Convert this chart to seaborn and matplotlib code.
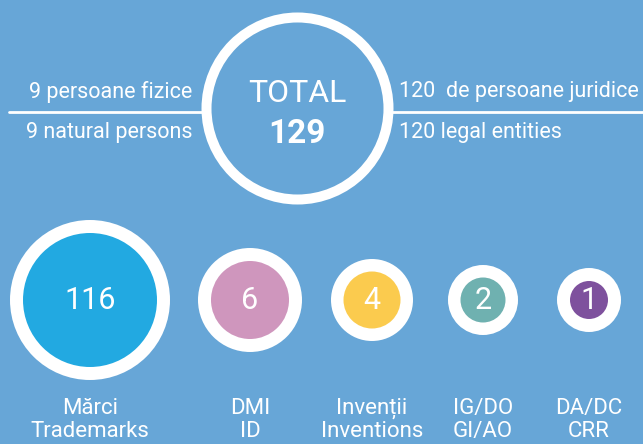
import matplotlib
matplotlib.use("Agg")
import matplotlib.pyplot as plt
import seaborn as sns
import pandas as pd

# data
categories = ["Mărci\nTrademarks", "DMI\nID", "Invenții\nInventions", "IG/DO\nGI/AO", "DA/DC\nCRR"]
counts = [116, 6, 4, 2, 1]
total = 129
natural_persons = 9
legal_entities = 120

# styling / layout (pixel coordinates)
bg = "#67a6d7"
fill_colors = ["#22a9e1", "#cf96bd", "#fbcb4e", "#6fb1b0", "#7e519d"]
x_pos = [90, 250, 372, 483, 589]
y_row = 300
outer_r = [80, 52, 41, 35, 32]
inner_r = [67, 39, 28.5, 22.5, 19]

W, H = 643, 444
PX = 72 / 100  # points per pixel at dpi 100


def area(r):
    return (2 * r * PX) ** 2


df = pd.DataFrame({"cat": categories, "count": counts, "x": x_pos, "y": y_row})

sns.set_theme(style="white")
plt.rcParams["font.family"] = ["Roboto", "DejaVu Sans"]

fig = plt.figure(figsize=(W / 100, H / 100), dpi=100, facecolor=bg)
ax = fig.add_axes([0, 0, 1, 1])
ax.set_facecolor(bg)

# white rings
sns.scatterplot(data=df, x="x", y="y", hue="cat", size="cat",
                sizes=dict(zip(categories, [area(r) for r in outer_r])),
                palette=dict(zip(categories, ["white"] * 5)),
                linewidth=0, legend=False, ax=ax, zorder=2)
# coloured fill
sns.scatterplot(data=df, x="x", y="y", hue="cat", size="cat",
                sizes=dict(zip(categories, [area(r) for r in inner_r])),
                palette=dict(zip(categories, fill_colors)),
                linewidth=0, legend=False, ax=ax, zorder=3)

for _, row in df.iterrows():
    ax.text(row["x"], row["y"], str(row["count"]), ha="center", va="center",
            color="white", fontsize=22, zorder=4)
    ax.text(row["x"], 420, row["cat"], ha="center", va="center",
            color="white", fontsize=16, linespacing=1.1, zorder=4)

# top total circle
cx, cy, r_top = 297, 108, 91
ax.plot([9, cx - r_top], [112, 112], color="white", lw=2, zorder=1)
ax.plot([cx + r_top, W], [112, 112], color="white", lw=2, zorder=1)
ax.scatter([cx], [cy], s=area(r_top), facecolor=bg, edgecolor="white",
           linewidth=10 * PX, zorder=2)
ax.text(cx, 94, "TOTAL", ha="center", va="center", color="white",
        fontsize=23, zorder=4)
ax.text(cx, 134, str(total), ha="center", va="center", color="white",
        fontsize=24, fontweight="bold", zorder=4)

ax.text(192, 92, f"{natural_persons} persoane fizice", ha="right", va="center",
        color="white", fontsize=15.5)
ax.text(192, 132, f"{natural_persons} natural persons", ha="right", va="center",
        color="white", fontsize=15.5)
ax.text(399, 92, f"{legal_entities}  de persoane juridice", ha="left", va="center",
        color="white", fontsize=15.5)
ax.text(399, 132, f"{legal_entities} legal entities", ha="left", va="center",
        color="white", fontsize=15.5)

ax.set_xlim(0, W)
ax.set_ylim(H, 0)
ax.axis("off")

fig.savefig("out.png", dpi=100, facecolor=bg)
